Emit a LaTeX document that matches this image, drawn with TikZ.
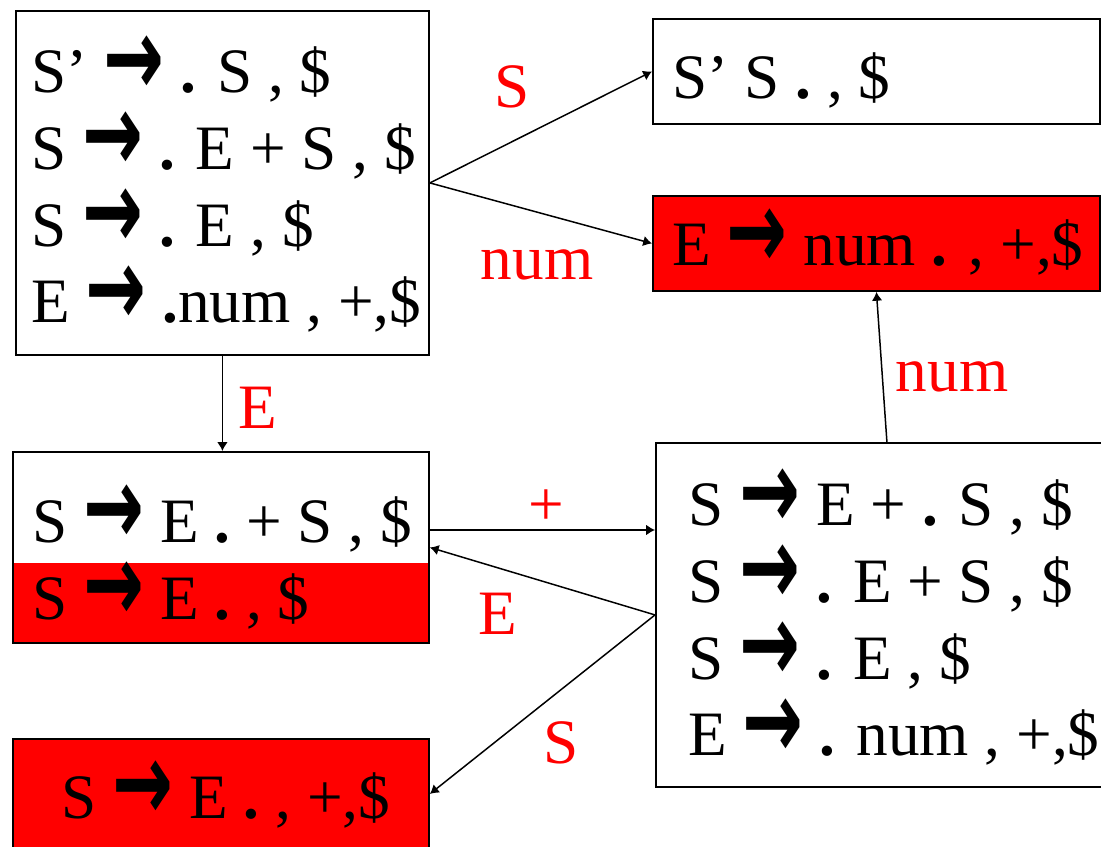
\documentclass[tikz,border=0pt]{standalone}
\usepackage{fontspec}
\setmainfont{Liberation Serif}
\newfontfamily\itemserif{Liberation Serif}
\newfontfamily\arrowfont{DejaVu Sans}
\usetikzlibrary{arrows.meta,positioning,calc}
\definecolor{statered}{HTML}{FF0000}
\newcommand{\itemfont}{\itemserif\fontsize{36}{43.6}\selectfont}
\newcommand{\goes}{\raisebox{-0.04em}{\scalebox{1.15}[1.75]{\arrowfont\bfseries →}}}
\newcommand{\dotm}{\textbf{.}}
\tikzset{
  state/.style={draw=black, line width=1.1pt, fill=white, inner sep=0pt},
  donestate/.style={state, fill=statered},
  items/.style={align=left, inner sep=0pt, font=\itemfont},
  symlabel/.style={text=statered, inner sep=0pt, font=\itemfont},
  trans/.style={-{Latex[length=5pt, width=6pt]}, line width=0.85pt, draw=black}
}

\begin{document}
\begin{tikzpicture}[x=0.02cm,y=-0.02cm]
  \useasboundingbox (0,0) rectangle (1101,847);
  \clip (0,0) rectangle (1101,847);
  % item sets
  \node[state, anchor=north west, minimum width=8.26cm, minimum height=6.88cm] (i0) at (15,10) {};
  \node[state, anchor=north west, minimum width=8.94cm, minimum height=2.1cm] (i1) at (652,18) {};
  \node[donestate, anchor=north west, minimum width=8.94cm, minimum height=1.9cm] (i2) at (652,195) {};
  \node[state, anchor=north west, minimum width=8.32cm, minimum height=3.82cm,
    path picture={\fill[statered] ([yshift=-2.22cm]path picture bounding box.north west) rectangle (path picture bounding box.south east);}] (i3) at (12,451) {};
  \node[state, anchor=north west, minimum width=9.24cm, minimum height=6.88cm] (i4) at (655,442) {};
  \node[donestate, anchor=north west, minimum width=8.32cm, minimum height=2.2cm] (i5) at (12,738) {};
  % items
  \node[items, anchor=west] (t0) at (31,184) {S’ \goes{} \dotm{} S , \$\\S \goes{} \dotm{} E + S , \$\\S \goes{} \dotm{} E , \$\\E \goes{} \dotm{}num , +,\$};
  \node[items, anchor=base west] (t1) at (672,99) {S’ S \dotm{} , \$};
  \node[items, anchor=base west] (t2) at (672,266) {E \goes{} num \dotm{} , +,\$};
  \node[items, anchor=west] (t3) at (32,557) {S \goes{} E \dotm{} + S , \$\\S \goes{} E \dotm{} , \$};
  \node[items, anchor=west] (t4) at (688,617) {S \goes{} E + \dotm{} S , \$\\S \goes{} \dotm{} E + S , \$\\S \goes{} \dotm{} E , \$\\E \goes{} \dotm{} num , +,\$};
  \node[items, anchor=base] (t5) at (226,818) {S \goes{} E \dotm{} , +,\$};
  % transitions
  \draw[trans] (i0.east) -- (i1.west);
  \draw[trans] (i0.east) -- (i2.west);
  \draw[trans] (i0.south) -- (i0.south |- i3.north);
  \draw[trans] (i3.east |- 0,530) -- (i4.west |- 0,530);
  \draw[trans] (i4.west) -- (i3.east);
  \draw[trans] (i4.west) -- (i5.east);
  \draw[trans] (i4.north) -- (i2.south);
  % symbols
  \node[symlabel] (l1) at (512,87) {S};
  \node[symlabel] (l2) at (537,265) {num};
  \node[symlabel] (l3) at (258,408) {E};
  \node[symlabel] (l4) at (546,508) {+};
  \node[symlabel] (l5) at (498,614) {E};
  \node[symlabel] (l6) at (561,743) {S};
  \node[symlabel] (l7) at (952,377) {num};
\end{tikzpicture}
\end{document}
